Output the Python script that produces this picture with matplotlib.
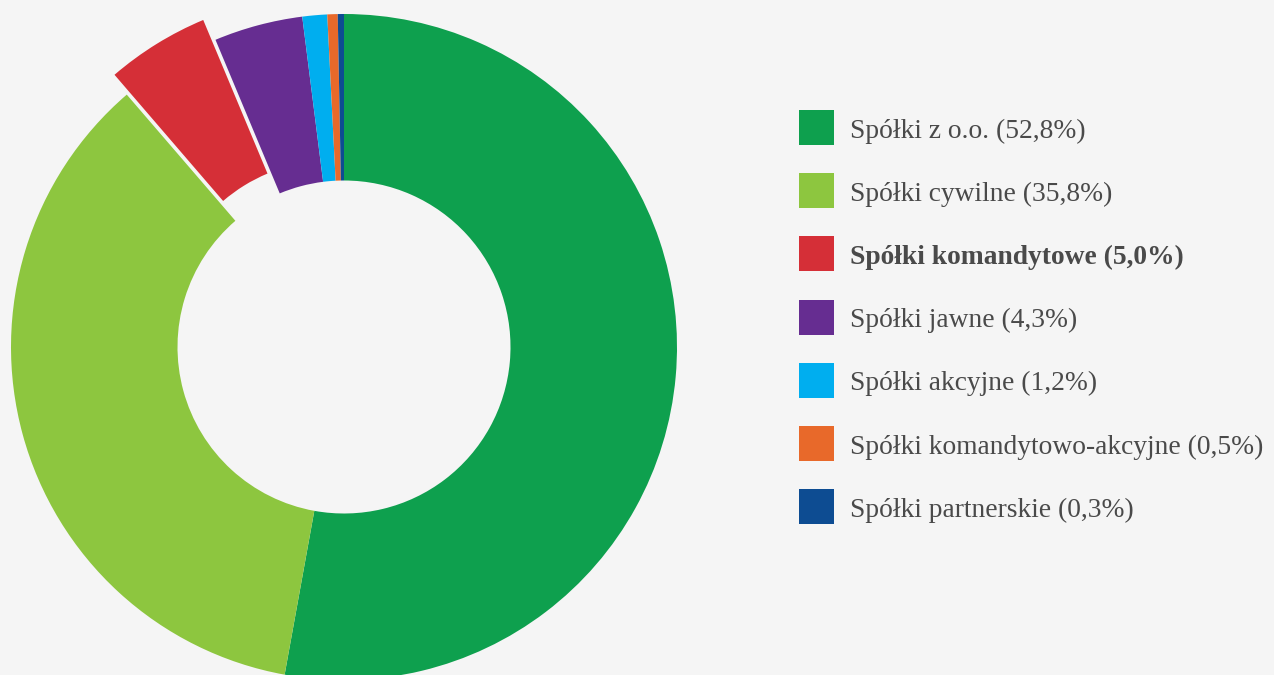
import matplotlib.pyplot as plt
from matplotlib.patches import Rectangle

# Dane
kategorie = ['Spółki z o.o.', 'Spółki cywilne', 'Spółki komandytowe', 'Spółki jawne',
             'Spółki akcyjne', 'Spółki komandytowo-akcyjne', 'Spółki partnerskie']
udzialy = [52.8, 35.8, 5.0, 4.3, 1.2, 0.5, 0.3]
kolory = ['#0ea04e', '#8dc63f', '#d52f37', '#662d91', '#00aeef', '#e8692a', '#0d4c92']
wysuniecie = [0, 0, 0.07, 0, 0, 0, 0]
pogrubione = [False, False, True, False, False, False, False]

tlo = '#f5f5f5'
fig = plt.figure(figsize=(12.74, 6.75), dpi=100, facecolor=tlo)
W, H = 1274, 675

# Wykres pierścieniowy
ax = fig.add_axes([11 / W, -5 / H, 666 / W, 666 / H])
ax.set_facecolor(tlo)
wedges, _ = ax.pie(udzialy, colors=kolory, startangle=90, counterclock=False,
                   explode=wysuniecie, radius=1,
                   wedgeprops=dict(width=0.5, edgecolor='none', linewidth=0))
for w in wedges:
    w.set_clip_on(False)
ax.set_xlim(-1, 1)
ax.set_ylim(-1, 1)
ax.set_aspect('equal')
ax.axis('off')

# Legenda
y0 = 110
krok = 63.2
for i, (kat, val, kol, b) in enumerate(zip(kategorie, udzialy, kolory, pogrubione)):
    top = y0 + i * krok
    fig.patches.append(Rectangle((799 / W, 1 - (top + 35) / H), 35 / W, 35 / H,
                                 transform=fig.transFigure, facecolor=kol, edgecolor='none'))
    tekst = f'{kat} ({str(val).replace(".", ",")}%)'
    fig.text(850 / W, 1 - (top + 21) / H, tekst, fontsize=19.8, color='#4a4a4a',
             family='Liberation Serif', fontweight='bold' if b else 'normal',
             va='center')

fig.savefig('out.png', dpi=100, facecolor=tlo)
